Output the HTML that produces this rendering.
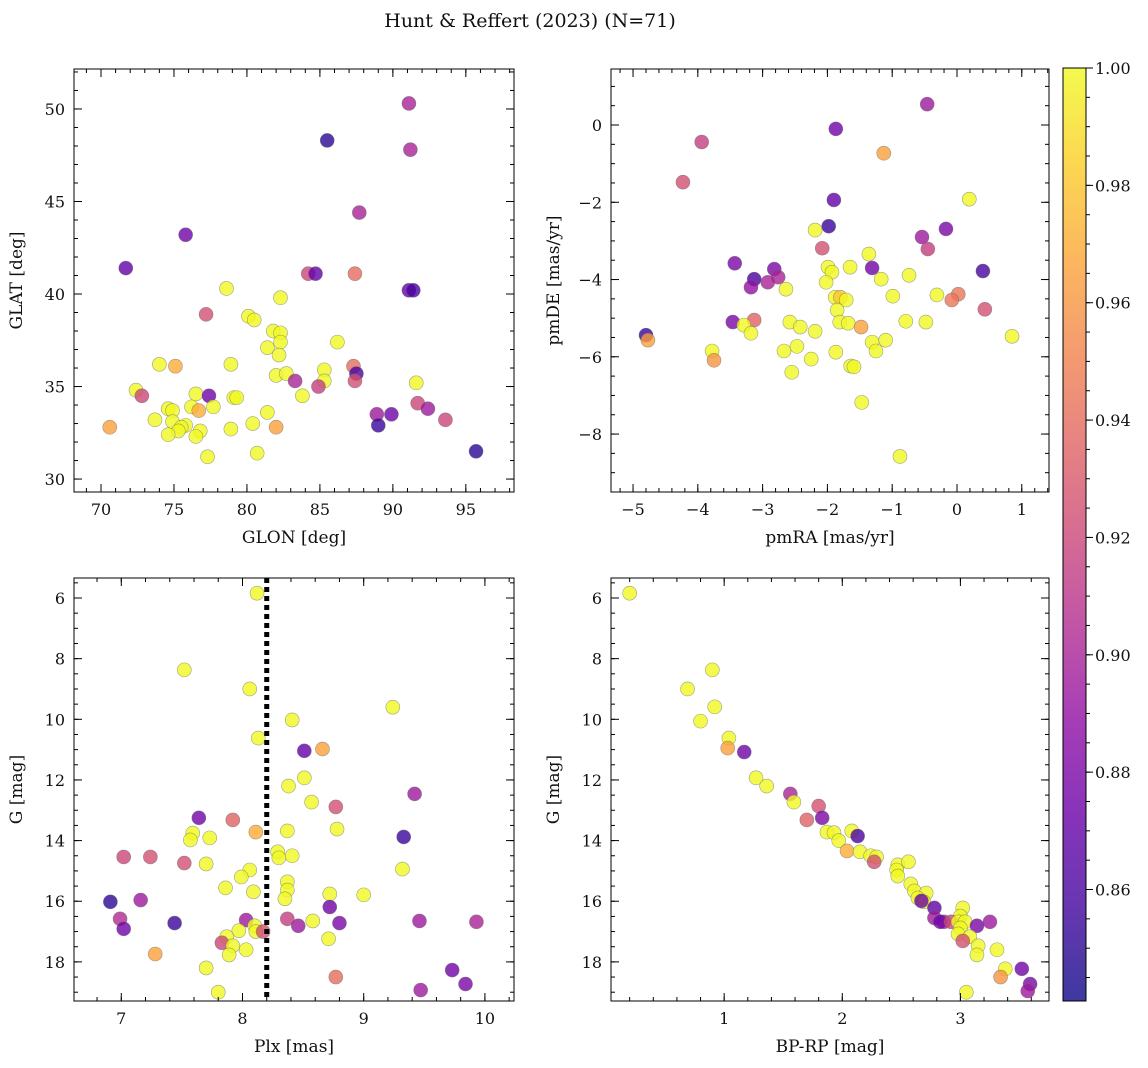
<!DOCTYPE html>
<html><head><meta charset="utf-8">
<style>
html,body{margin:0;padding:0;background:#fff;}
svg{display:block;font-family:"DejaVu Serif","Liberation Serif",serif;}
</style></head>
<body>
<svg id="fig" width="1148" height="1068" viewBox="0 0 1148 1068" xmlns="http://www.w3.org/2000/svg">
<text x="530" y="27" font-size="19" text-anchor="middle" fill="#111">Hunt &amp; Reffert (2023) (N=71)</text>
</svg>
<script>
// ---- Panel 1: GLON vs GLAT ----
const p1x=[91.1,85.5,91.2,87.7,75.8,71.7,84.2,84.7,87.4,91.1,91.4,78.6,80.1,80.5,77.2,82.3,81.8,82.3,81.4,82.3,86.2,82.2,74.0,75.1,78.9,87.3,85.3,82.0,82.7,87.5,87.4,83.3,85.3,91.6,72.4,72.8,76.5,77.4,79.1,79.3,83.8,84.9,91.7,92.4,74.6,74.9,76.2,77.7,76.7,81.4,88.9,89.9,93.6,73.7,74.9,75.8,75.5,75.3,76.8,78.9,80.4,82.0,70.6,89.0,74.6,76.5,77.3,80.7,95.7];
const p1y=[50.3,48.3,47.8,44.4,43.2,41.4,41.1,41.1,41.1,40.2,40.2,40.3,38.8,38.6,38.9,39.8,38.0,37.9,37.1,37.4,37.4,36.7,36.2,36.1,36.2,36.1,35.9,35.6,35.7,35.7,35.3,35.3,35.3,35.2,34.8,34.5,34.6,34.5,34.4,34.4,34.5,35.0,34.1,33.8,33.8,33.7,33.9,33.9,33.7,33.6,33.5,33.5,33.2,33.2,33.1,32.9,32.8,32.6,32.6,32.7,33.0,32.8,32.8,32.9,32.4,32.3,31.2,31.4,31.5];
const p1c=[0.90,0.85,0.90,0.90,0.875,0.87,0.92,0.87,0.94,0.87,0.86,1,1,1,0.925,1,1,1,1,1,1,1,1,0.97,1,0.94,1,1,1,0.86,0.925,0.90,1,1,1,0.92,1,0.875,1,1,1,0.915,0.92,0.895,1,1,1,1,0.97,1,0.895,0.875,0.92,1,1,1,1,1,1,1,1,0.965,0.965,0.855,1,1,1,1,0.85];
// ---- Panel 2: pmRA vs pmDE ----
const p2x=[-0.46,-1.87,-3.94,-1.13,-4.23,0.19,-1.90,-1.98,-2.19,-0.17,-0.54,-0.45,-2.08,-3.43,-1.99,-1.93,-1.65,-1.36,-1.31,0.40,-2.82,-2.76,-3.13,-2.92,-1.17,-2.02,-0.74,-3.18,-0.31,-0.99,0.02,-0.08,-1.88,-1.80,-1.71,-2.64,-1.85,0.43,-3.13,-3.46,-3.29,-3.18,-2.58,-2.42,-1.81,-1.68,-0.79,-0.48,-1.48,-2.19,-1.31,-1.10,-1.25,0.85,-4.80,-4.77,-2.47,-2.67,-3.78,-3.75,-1.87,-2.25,-1.64,-1.59,-2.55,-1.47,-0.88];
const p2y=[0.54,-0.10,-0.44,-0.73,-1.48,-1.92,-1.94,-2.62,-2.72,-2.69,-2.90,-3.21,-3.19,-3.58,-3.68,-3.81,-3.68,-3.34,-3.70,-3.78,-3.73,-3.94,-3.99,-4.07,-3.99,-4.07,-3.89,-4.20,-4.40,-4.43,-4.38,-4.53,-4.46,-4.46,-4.53,-4.25,-4.79,-4.77,-5.05,-5.10,-5.18,-5.39,-5.10,-5.23,-5.10,-5.13,-5.08,-5.10,-5.23,-5.34,-5.62,-5.57,-5.85,-5.47,-5.44,-5.57,-5.73,-5.85,-5.85,-6.09,-5.88,-6.06,-6.24,-6.26,-6.40,-7.18,-8.58];
const p2c=[0.895,0.875,0.915,0.965,0.925,1,0.87,0.855,1,0.88,0.895,0.915,0.925,0.88,1,1,1,1,0.875,0.86,0.88,0.90,0.86,0.90,1,1,1,0.89,1,1,0.945,0.945,1,0.98,1,1,1,0.925,0.935,0.88,1,1,1,1,1,1,1,1,0.965,1,1,1,1,1,0.855,0.965,1,1,1,0.96,1,1,1,1,1,1,1];
// ---- Panel 3: Plx vs G ----
const p3x=[8.12,7.52,8.06,9.24,8.13,8.41,8.66,8.51,9.42,8.51,8.38,8.57,8.77,7.64,7.92,8.78,8.11,8.37,7.59,7.57,7.73,9.33,8.29,8.30,8.41,7.24,7.02,7.52,7.70,8.06,9.32,7.99,8.37,8.37,8.09,7.86,8.72,9.00,8.35,6.91,7.16,8.72,8.37,8.58,8.03,6.99,7.44,8.46,8.80,9.46,9.93,7.02,8.10,8.11,7.97,8.17,8.71,7.87,7.83,7.92,8.03,7.89,7.28,7.70,9.73,9.84,8.77,9.47,7.80];
const p3y=[5.84,8.37,9.00,9.60,10.62,10.02,10.98,11.04,12.46,11.93,12.20,12.73,12.89,13.25,13.32,13.62,13.72,13.68,13.75,13.98,13.91,13.88,14.37,14.57,14.50,14.54,14.54,14.74,14.77,14.97,14.94,15.20,15.36,15.63,15.69,15.56,15.76,15.79,15.92,16.02,15.96,16.19,16.58,16.65,16.62,16.58,16.72,16.81,16.72,16.65,16.68,16.91,16.81,17.00,16.97,17.00,17.24,17.17,17.37,17.47,17.60,17.77,17.74,18.20,18.27,18.73,18.50,18.93,19.00];
const p3c=[1,1,1,1,1,1,0.965,0.87,0.895,1,1,1,0.925,0.875,0.935,1,0.97,1,1,1,1,0.855,1,1,1,0.925,0.92,0.925,1,1,1,1,1,1,1,1,1,1,1,0.85,0.895,0.875,0.915,1,0.895,0.905,0.855,0.895,0.88,0.895,0.90,0.875,1,1,1,0.925,1,1,0.92,1,1,1,0.965,1,0.875,0.88,0.94,0.895,1];
// ---- Panel 4: BP-RP vs G ----
const p4x=[0.20,0.90,0.69,0.92,0.80,1.04,1.03,1.17,1.27,1.36,1.56,1.59,1.80,1.70,1.83,1.87,1.93,2.08,1.97,2.13,2.04,2.15,2.24,2.29,2.27,2.47,2.56,2.46,2.47,2.58,2.61,2.71,2.64,2.69,2.67,2.78,3.02,3.00,2.78,2.86,2.83,2.92,2.98,3.04,3.25,3.14,3.00,2.98,3.08,3.02,3.15,3.31,3.14,3.38,3.52,3.34,3.59,3.57,3.05];
const p4y=[5.84,8.37,9.00,9.59,10.06,10.62,10.95,11.08,11.93,12.20,12.46,12.73,12.86,13.32,13.25,13.72,13.74,13.68,14.00,13.85,14.34,14.37,14.50,14.54,14.70,14.80,14.70,14.97,15.17,15.43,15.66,15.73,15.89,16.02,15.99,16.22,16.22,16.49,16.55,16.68,16.68,16.68,16.68,16.68,16.68,16.81,16.88,17.08,17.17,17.31,17.47,17.60,17.77,18.23,18.23,18.50,18.73,18.96,19.00];
const p4c=[1,1,1,1,1,1,0.965,0.875,1,1,0.90,1,0.925,0.935,0.88,1,1,1,1,0.86,0.97,1,1,1,0.925,1,1,1,1,1,1,1,1,1,0.875,0.87,1,1,0.895,0.90,0.875,0.92,1,1,0.895,0.88,1,1,1,0.925,1,1,1,1,0.875,0.96,0.88,0.895,1];
// tick labels
const p1xt=[70,75,80,85,90,95], p1yt=[30,35,40,45,50];
const p2xt=[-5,-4,-3,-2,-1,0,1], p2yt=[-8,-6,-4,-2,0];
const p3xt=[7,8,9,10], gyt=[6,8,10,12,14,16,18];
const p4xt=[1,2,3];
const cbt=[0.86,0.88,0.90,0.92,0.94,0.96,0.98,1.00];
const plxCut=[8.2];

const NS="http://www.w3.org/2000/svg";
const svg=document.getElementById('fig');
function el(t,a,p){const e=document.createElementNS(NS,t);for(const k in a)e.setAttribute(k,a[k]);(p||svg).appendChild(e);return e;}
const stops=["#0d0887","#41049d","#6a00a8","#8f0da4","#b12a90","#cc4778","#e16462","#f2844b","#fca636","#fcce25","#f0f921"];
function hex(h){return [1,3,5].map(i=>parseInt(h.substr(i,2),16));}
const CMIN=0.841,CMAX=1.0;
function cmap(v){let t=(v-CMIN)/(CMAX-CMIN);t=Math.max(0,Math.min(1,t));const f=t*10,i=Math.min(9,Math.floor(f)),r=f-i;const a=hex(stops[i]),b=hex(stops[i+1]);return "rgb("+a.map((c,k)=>Math.round(c+(b[k]-c)*r)).join(",")+")";}

function panel(cfg){
  const {L,T,R,B,x0,x1,y0,y1,name}=cfg;
  const g=el('g',{});
  
  
  const sx=v=>L+(v-x0)/(x1-x0)*(R-L);
  const sy=v=>T+(v-y0)/(y1-y0)*(B-T);
  // points
  const pg=el('g',{},g);
  
  
  cfg.xs.forEach((xv,i)=>{
    const c=el('circle',{cx:sx(xv),cy:sy(cfg.ys[i]),r:7,fill:cmap(cfg.cs[i]),'fill-opacity':0.8,stroke:'#666','stroke-width':0.6,'stroke-opacity':0.6},pg);
    
    
  });
  if(cfg.vline){cfg.vline.forEach(v=>{const l=el('line',{x1:sx(v),x2:sx(v),y1:T,y2:B,stroke:'#000','stroke-width':5,'stroke-dasharray':'5,4'},g);
    
    });}
  const fr=el('rect',{x:L,y:T,width:R-L,height:B-T,fill:'none',stroke:'#000','stroke-width':1},g);
  
  
  const lo=Math.min(x0,x1),hi=Math.max(x0,x1);
  for(let v=Math.ceil(lo/cfg.xm-1e-6)*cfg.xm;v<=hi+1e-9;v+=cfg.xm){const X=sx(v);el('line',{x1:X,x2:X,y1:B,y2:B-4,stroke:'#000'},g);el('line',{x1:X,x2:X,y1:T,y2:T+4,stroke:'#000'},g);}
  const ylo=Math.min(y0,y1),yhi=Math.max(y0,y1);
  for(let v=Math.ceil(ylo/cfg.ym-1e-6)*cfg.ym;v<=yhi+1e-9;v+=cfg.ym){const Y=sy(v);el('line',{x1:L,x2:L+4,y1:Y,y2:Y,stroke:'#000'},g);el('line',{x1:R,x2:R-4,y1:Y,y2:Y,stroke:'#000'},g);}
  cfg.xt.forEach(v=>{const X=sx(v);el('line',{x1:X,x2:X,y1:B,y2:B-8,stroke:'#000'},g);el('line',{x1:X,x2:X,y1:T,y2:T+8,stroke:'#000'},g);
    const t=el('text',{x:X,y:B+23,'font-size':16,'text-anchor':'middle',fill:'#111'},g);t.textContent=v<0?'\u2212'+(-v):String(v);
    });
  cfg.yt.forEach(v=>{const Y=sy(v);el('line',{x1:L,x2:L+8,y1:Y,y2:Y,stroke:'#000'},g);el('line',{x1:R,x2:R-8,y1:Y,y2:Y,stroke:'#000'},g);
    const t=el('text',{x:L-9,y:Y+6,'font-size':16,'text-anchor':'end',fill:'#111'},g);t.textContent=v<0?'\u2212'+(-v):String(v);
    });
  const xl=el('text',{x:(L+R)/2,y:B+51,'font-size':17,'text-anchor':'middle',fill:'#111'},g);xl.textContent=cfg.xlab;
  
  const yx=L-52,yy=(T+B)/2;
  const yl=el('text',{x:yx,y:yy,'font-size':17,'text-anchor':'middle',fill:'#111',transform:`rotate(-90 ${yx} ${yy})`},g);yl.textContent=cfg.ylab;
  
}
panel({name:'glon-glat-panel',L:74,T:69,R:514,B:492,x0:68.15,x1:98.3,y0:52.16,y1:29.3,xs:p1x,ys:p1y,cs:p1c,xt:p1xt,yt:p1yt,xm:1,ym:1,xlab:'GLON [deg]',ylab:'GLAT [deg]'});
panel({name:'pm-panel',L:611,T:69,R:1049,B:492,x0:-5.34,x1:1.42,y0:1.45,y1:-9.5,xs:p2x,ys:p2y,cs:p2c,xt:p2xt,yt:p2yt,xm:0.2,ym:0.5,xlab:'pmRA [mas/yr]',ylab:'pmDE [mas/yr]'});
panel({name:'plx-g-panel',L:74,T:578,R:514,B:1001,x0:6.61,x1:10.24,y0:5.34,y1:19.29,xs:p3x,ys:p3y,cs:p3c,xt:p3xt,yt:gyt,xm:0.2,ym:0.5,xlab:'Plx [mas]',ylab:'G [mag]',vline:plxCut});
panel({name:'cmd-panel',L:611,T:578,R:1049,B:1001,x0:0.042,x1:3.75,y0:5.34,y1:19.29,xs:p4x,ys:p4y,cs:p4c,xt:p4xt,yt:gyt,xm:0.2,ym:0.5,xlab:'BP-RP [mag]',ylab:'G [mag]'});

// colorbar
const cb=el('g',{});


const CL=1063,CT=68,CR=1086,CB=1001;
const defs=el('defs',{},cb);
const gr=el('linearGradient',{id:'cbg',x1:0,y1:1,x2:0,y2:0},defs);
stops.forEach((s,i)=>el('stop',{offset:i/10,'stop-color':s},gr));
el('rect',{x:CL,y:CT,width:CR-CL,height:CB-CT,fill:'url(#cbg)','fill-opacity':0.8,stroke:'#000','stroke-width':1},cb);
const cy=v=>CB-(v-CMIN)/(CMAX-CMIN)*(CB-CT);
for(let v=0.845;v<=1.0001;v+=0.005){el('line',{x1:CR,x2:CR+4,y1:cy(v),y2:cy(v),stroke:'#000'},cb);}
cbt.forEach(v=>{const Y=cy(v);el('line',{x1:CR,x2:CR+7,y1:Y,y2:Y,stroke:'#000'},cb);
  const t=el('text',{x:CR+9,y:Y+6,'font-size':16,fill:'#111'},cb);t.textContent=v.toFixed(2);
  });
</script>
</body></html>
